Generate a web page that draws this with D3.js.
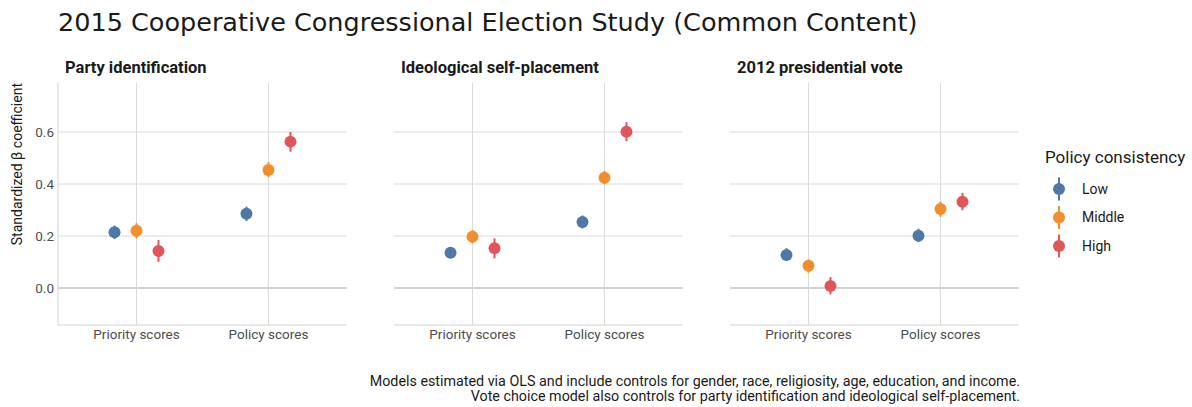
<!DOCTYPE html>
<html>
<head>
<meta charset="utf-8">
<script src="https://cdn.jsdelivr.net/npm/d3@7"></script>
<style>
  html, body { margin: 0; padding: 0; background: #ffffff; }
  svg { display: block; }
  .plex { font-family: Roboto, "Noto Sans", sans-serif; }
</style>
</head>
<body>
<svg id="chart" width="1192" height="407"></svg>
<script>
// Coefficient estimates with 95% intervals, by outcome model.
// Order within each array: Priority scores (Low, Middle, High), Policy scores (Low, Middle, High)
const panels = ["Party identification", "Ideological self-placement", "2012 presidential vote"];
const categories = ["Priority scores", "Policy scores"];
const consistency = ["Low", "Middle", "High"];
const yTicks = [0.0, 0.2, 0.4, 0.6];

const partyEstimate = [0.214, 0.220, 0.142, 0.286, 0.454, 0.563];
const partyLower    = [0.188, 0.191, 0.101, 0.258, 0.426, 0.524];
const partyUpper    = [0.240, 0.249, 0.185, 0.313, 0.484, 0.600];

const ideologyEstimate = [0.136, 0.197, 0.153, 0.254, 0.424, 0.601];
const ideologyLower    = [0.118, 0.172, 0.114, 0.229, 0.399, 0.565];
const ideologyUpper    = [0.154, 0.223, 0.191, 0.279, 0.450, 0.638];

const voteEstimate = [0.127, 0.086, 0.008, 0.201, 0.304, 0.332];
const voteLower    = [0.104, 0.059, -0.025, 0.177, 0.274, 0.299];
const voteUpper    = [0.153, 0.110, 0.042, 0.228, 0.332, 0.366];

const captionLines = [
  "Models estimated via OLS and include controls for gender, race, religiosity, age, education, and income.",
  "Vote choice model also controls for party identification and ideological self-placement."
];

// Assemble long-format rows per panel
function rows(est, lo, hi) {
  const out = [];
  categories.forEach((c, ci) => consistency.forEach((s, si) => {
    const k = ci * consistency.length + si;
    out.push({ category: c, level: s, est: est[k], lo: lo[k], hi: hi[k] });
  }));
  return out;
}
const panelData = [
  rows(partyEstimate, partyLower, partyUpper),
  rows(ideologyEstimate, ideologyLower, ideologyUpper),
  rows(voteEstimate, voteLower, voteUpper)
];

const svg = d3.select("#chart");
const color = d3.scaleOrdinal().domain(consistency).range(["#4E79A7", "#F28E2B", "#E15759"]);

const panelLeft = [58, 394, 730];
const panelW = 289;
const plotTop = 83, plotBottom = 325;

const y = d3.scaleLinear().domain([-0.1423, 0.7885]).range([plotBottom, plotTop]);

// Title
svg.append("text")
  .attr("x", 58).attr("y", 31)
  .style("font-family", "'DejaVu Sans', sans-serif")
  .style("font-size", "25.5px")
  .attr("fill", "#1a1a1a")
  .text("2015 Cooperative Congressional Election Study (Common Content)");

panelData.forEach((data, pi) => {
  const x0 = panelLeft[pi];
  const x = d3.scalePoint().domain(categories).range([x0, x0 + panelW]).padding(0.595);
  const step = x.step();
  // dodge three groups within half a category step
  const dodge = d3.scalePoint().domain(consistency).range([-step / 6, step / 6]);

  const g = svg.append("g");

  // horizontal grid
  g.selectAll(".hgrid").data(yTicks).join("line")
    .attr("x1", x0).attr("x2", x0 + panelW)
    .attr("y1", d => y(d)).attr("y2", d => y(d))
    .attr("stroke", d => d === 0 ? "#c4c4c4" : "#dadada")
    .attr("stroke-width", d => d === 0 ? 1.6 : 1);

  // vertical grid
  g.selectAll(".vgrid").data(categories).join("line")
    .attr("x1", d => x(d)).attr("x2", d => x(d))
    .attr("y1", plotTop).attr("y2", plotBottom)
    .attr("stroke", "#dadada").attr("stroke-width", 1);

  // bottom axis line
  g.append("line")
    .attr("x1", x0).attr("x2", x0 + panelW)
    .attr("y1", plotBottom).attr("y2", plotBottom)
    .attr("stroke", "#d4d4d4").attr("stroke-width", 1);

  if (pi === 0) {
    g.append("line")
      .attr("x1", x0).attr("x2", x0)
      .attr("y1", plotTop).attr("y2", plotBottom)
      .attr("stroke", "#d4d4d4").attr("stroke-width", 1);
    // y tick labels
    g.selectAll(".ylab").data(yTicks).join("text")
      .attr("class", "plex")
      .attr("x", x0 - 4).attr("y", d => y(d))
      .attr("dy", "0.35em")
      .attr("text-anchor", "end")
      .style("font-size", "13.5px")
      .attr("fill", "#4d4d4d")
      .text(d3.format(".1f"));
    // y axis title
    g.append("text")
      .attr("class", "plex")
      .attr("transform", `translate(22,${plotTop}) rotate(-90)`)
      .attr("text-anchor", "end")
      .style("font-size", "14px")
      .attr("fill", "#1a1a1a")
      .text("Standardized β coefficient");
  }

  // x tick labels
  g.selectAll(".xlab").data(categories).join("text")
    .attr("class", "plex")
    .attr("x", d => x(d)).attr("y", 339)
    .attr("text-anchor", "middle")
    .style("font-size", "13.5px")
    .attr("fill", "#4d4d4d")
    .text(d => d);

  // panel title
  g.append("text")
    .attr("class", "plex")
    .attr("x", x0 + 7).attr("y", 73)
    .style("font-size", "16.5px")
    .style("font-weight", "bold")
    .attr("fill", "#1a1a1a")
    .text(panels[pi]);

  // interval lines
  g.selectAll(".range").data(data).join("line")
    .attr("x1", d => x(d.category) + dodge(d.level))
    .attr("x2", d => x(d.category) + dodge(d.level))
    .attr("y1", d => y(d.lo)).attr("y2", d => y(d.hi))
    .attr("stroke", d => color(d.level))
    .attr("stroke-width", 2);

  // point estimates
  g.selectAll(".pt").data(data).join("circle")
    .attr("cx", d => x(d.category) + dodge(d.level))
    .attr("cy", d => y(d.est))
    .attr("r", 6)
    .attr("fill", d => color(d.level));
});

// Legend
const legend = svg.append("g");
legend.append("text")
  .attr("class", "plex")
  .attr("x", 1045).attr("y", 163)
  .style("font-size", "17px")
  .attr("fill", "#1a1a1a")
  .text("Policy consistency");
const keyY = d3.scalePoint().domain(consistency).range([189, 246]);
const keys = legend.selectAll(".key").data(consistency).join("g")
  .attr("transform", d => `translate(1059,${keyY(d)})`);
keys.append("line")
  .attr("y1", -11.5).attr("y2", 11.5)
  .attr("stroke", d => color(d)).attr("stroke-width", 2);
keys.append("circle").attr("r", 6).attr("fill", d => color(d));
keys.append("text")
  .attr("class", "plex")
  .attr("x", 23).attr("dy", "0.35em")
  .style("font-size", "14px")
  .attr("fill", "#1a1a1a")
  .text(d => d);

// Caption
svg.append("g").selectAll("text").data(captionLines).join("text")
  .attr("class", "plex")
  .attr("x", 1020).attr("y", (d, i) => 386 + i * 15)
  .attr("text-anchor", "end")
  .style("font-size", "14.3px")
  .attr("fill", "#1a1a1a")
  .text(d => d);
</script>
</body>
</html>
